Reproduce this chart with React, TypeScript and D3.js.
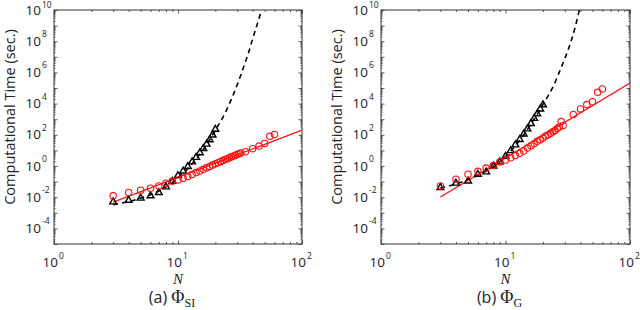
import React, { useEffect, useRef } from 'react';
import * as d3 from 'd3';

// values are log10(seconds)
const triN = [3, 4, 5, 6, 7, 8, 9, 10, 11, 12, 13, 14, 15, 16, 17, 18, 19, 20];
const triLogA = [-2.30, -2.20, -2.06, -1.91, -1.70, -1.34, -0.98, -0.62, -0.32, -0.03, 0.26, 0.55, 0.85, 1.12, 1.40, 1.68, 1.98, 2.35];
const triLogB = [-1.38, -1.10, -0.96, -0.53, -0.38, 0.0, 0.26, 0.62, 0.98, 1.35, 1.70, 2.05, 2.38, 2.72, 3.05, 3.35, 3.65, 3.92];

const circNA = [3, 4, 5, 6, 7, 8, 9, 10, 11, 12, 13, 14, 15, 16, 17, 18, 19, 20, 21, 22, 23, 24, 25, 26, 27, 28, 29, 30, 31, 32, 35, 40, 45, 50, 55, 60];
const circLogA = [-1.91, -1.70, -1.55, -1.42, -1.28, -1.10, -0.98, -0.89, -0.78, -0.68, -0.55, -0.42, -0.32, -0.21, -0.12, -0.03, 0.06, 0.14, 0.21, 0.28, 0.35, 0.41, 0.47, 0.53, 0.59, 0.64, 0.69, 0.74, 0.79, 0.84, 0.92, 1.11, 1.28, 1.45, 1.90, 2.02];
const circNB = [3, 4, 5, 6, 7, 8, 9, 10, 11, 12, 13, 14, 15, 16, 17, 18, 19, 20, 21, 22, 23, 24, 25, 26, 27, 28, 29, 35, 40, 45, 50, 55, 60];
const circLogB = [-1.28, -0.85, -0.53, -0.34, -0.13, 0.04, 0.26, 0.38, 0.53, 0.68, 0.81, 0.96, 1.15, 1.30, 1.42, 1.58, 1.68, 1.80, 1.93, 2.00, 2.10, 2.20, 2.28, 2.40, 2.50, 2.85, 2.60, 3.30, 3.66, 3.94, 4.12, 4.72, 4.94];

// dashed fit (black)
const dashNA = [3, 4, 5, 6, 7, 8, 9, 10, 12, 14, 16, 18, 20, 22, 24, 26, 28, 31, 34, 37, 40, 43, 46, 48];
const dashLogA = [-2.48, -2.28, -2.06, -1.84, -1.60, -1.34, -1.05, -0.75, -0.15, 0.45, 1.05, 1.68, 2.30, 2.85, 3.40, 4.00, 4.60, 5.50, 6.40, 7.25, 8.15, 8.95, 9.70, 10.2];
const dashNB = [3, 4, 5, 6, 7, 8, 9, 10, 12, 14, 16, 18, 20, 22, 24, 27, 30, 33, 36, 39.2, 40];
const dashLogB = [-1.42, -1.15, -0.88, -0.60, -0.32, -0.04, 0.27, 0.60, 1.30, 2.00, 2.68, 3.32, 3.95, 4.50, 5.05, 6.00, 6.90, 7.80, 8.80, 10.0, 10.3];

// red fit (solid)
const fitN = [3, 100];
const fitLogA = [-2.32, 2.30];
const fitLogB = [-1.99, 5.32];

const yLabelExps = [-4, -2, 0, 2, 4, 6, 8, 10];
const xLabelExps = [0, 1, 2];

const RED = '#ff1010';
const AXIS = '#333';
const SANS = '"Open Sans", sans-serif';
const SERIF = '"Liberation Serif", "DejaVu Serif", serif';

const App = () => {
  const ref = useRef(null);

  useEffect(() => {
    const svg = d3.select(ref.current);
    svg.selectAll('*').remove();

    const top = 10, bottom = 244;

    const panels = [
      { id: 'a', left: 54, right: 302, tri: triLogA, circN: circNA, circ: circLogA, dashN: dashNA, dash: dashLogA, fit: fitLogA, sub: 'SI' },
      { id: 'b', left: 381, right: 630, tri: triLogB, circN: circNB, circ: circLogB, dashN: dashNB, dash: dashLogB, fit: fitLogB, sub: 'G' },
    ];

    panels.forEach(p => {
      const x = d3.scaleLog().domain([1, 100]).range([p.left, p.right]);
      const y = d3.scaleLog().domain([1e-5, 1e10]).range([bottom, top]);
      const g = svg.append('g');

      // clip
      g.append('clipPath').attr('id', 'clip-' + p.id)
        .append('rect').attr('x', p.left).attr('y', top)
        .attr('width', p.right - p.left).attr('height', bottom - top);

      // ticks
      const majorX = [1, 10, 100];
      const minorX = [];
      [1, 10].forEach(d => { for (let m = 2; m < 10; m++) minorX.push(d * m); });
      const majorY = d3.range(-5, 11).map(e => 10 ** e);
      const minorY = [];
      d3.range(-5, 10).forEach(e => { for (let m = 2; m < 10; m++) minorY.push(m * 10 ** e); });

      const tickAxis = (axis, vals, size, transform) => {
        g.append('g')
          .attr('transform', transform)
          .call(axis.tickValues(vals).tickSize(size).tickFormat(''))
          .call(a => {
            a.select('.domain').remove();
            a.selectAll('.tick line').attr('stroke', AXIS).attr('stroke-width', 0.8);
          });
      };
      tickAxis(d3.axisBottom(x), majorX, -3.5, `translate(0,${bottom})`);
      tickAxis(d3.axisBottom(x), minorX, -2, `translate(0,${bottom})`);
      tickAxis(d3.axisTop(x), majorX, -3.5, `translate(0,${top})`);
      tickAxis(d3.axisTop(x), minorX, -2, `translate(0,${top})`);
      tickAxis(d3.axisLeft(y), majorY, -3.5, `translate(${p.left},0)`);
      tickAxis(d3.axisLeft(y), minorY, -1.5, `translate(${p.left},0)`);
      tickAxis(d3.axisRight(y), majorY, -3.5, `translate(${p.right},0)`);
      tickAxis(d3.axisRight(y), minorY, -1.5, `translate(${p.right},0)`);

      // box
      g.append('rect')
        .attr('x', p.left).attr('y', top)
        .attr('width', p.right - p.left).attr('height', bottom - top)
        .attr('fill', 'none').attr('stroke', AXIS).attr('stroke-width', 1);

      // y labels
      yLabelExps.forEach(e => {
        const yy = y(10 ** e);
        g.append('text').attr('x', p.left - 13).attr('y', yy + 4.5)
          .attr('text-anchor', 'end').attr('font-family', SANS).attr('font-size', 13.5)
          .attr('fill', '#222').text('10');
        g.append('text').attr('x', p.left - 12).attr('y', Math.max(yy - 4, 8))
          .attr('font-family', SANS).attr('font-size', 8.5)
          .attr('fill', '#222').text(e < 0 ? '-' + Math.abs(e) : String(e));
      });

      // x labels
      xLabelExps.forEach(e => {
        const xx = x(10 ** e);
        g.append('text').attr('x', xx + 4).attr('y', 266.5)
          .attr('text-anchor', 'end').attr('font-family', SANS).attr('font-size', 13.5)
          .attr('fill', '#222').text('10');
        g.append('text').attr('x', xx + 5).attr('y', 259)
          .attr('font-family', SANS).attr('font-size', 8.5)
          .attr('fill', '#222').text(String(e));
      });

      // axis titles
      const cx = (p.left + p.right) / 2;
      g.append('text').attr('x', cx).attr('y', 284)
        .attr('text-anchor', 'middle').attr('font-family', SERIF).attr('font-style', 'italic')
        .attr('font-size', 15).attr('fill', '#222').text('N');

      g.append('text')
        .attr('transform', `translate(${p.left - 39},${(top + bottom) / 2 - 10}) rotate(-90)`)
        .attr('text-anchor', 'middle').attr('font-family', SANS).attr('font-size', 14.5)
        .attr('fill', '#222').text('Computational Time (sec.)');

      // caption
      const cap = g.append('text').attr('x', cx - 6).attr('y', 303)
        .attr('text-anchor', 'middle').attr('font-size', 16).attr('fill', '#222');
      cap.append('tspan').attr('font-family', SANS).text(`(${p.id}) `);
      cap.append('tspan').attr('font-family', SERIF).attr('font-size', 18).text('Φ');
      cap.append('tspan').attr('font-family', SERIF).attr('font-size', 12).attr('dy', 4).text(p.sub);

      // data
      const plot = g.append('g').attr('clip-path', `url(#clip-${p.id})`);

      const line = d3.line().x(d => x(d[0])).y(d => y(10 ** d[1]));

      plot.append('path')
        .datum(p.dashN.map((n, i) => [n, p.dash[i]]))
        .attr('d', d3.line().curve(d3.curveMonotoneX).x(d => x(d[0])).y(d => y(10 ** d[1])))
        .attr('fill', 'none').attr('stroke', '#000').attr('stroke-width', 1.6)
        .attr('stroke-dasharray', '5,4');

      plot.append('path')
        .datum(fitN.map((n, i) => [n, p.fit[i]]))
        .attr('d', line)
        .attr('fill', 'none').attr('stroke', RED).attr('stroke-width', 1.3);

      plot.selectAll('.tri')
        .data(triN.map((n, i) => [n, p.tri[i]]))
        .join('path')
        .attr('transform', d => `translate(${x(d[0])},${y(10 ** d[1])})`)
        .attr('d', d3.symbol(d3.symbolTriangle, 20))
        .attr('fill', 'none').attr('stroke', '#000').attr('stroke-width', 1.4);

      plot.selectAll('.circ')
        .data(p.circN.map((n, i) => [n, p.circ[i]]))
        .join('circle')
        .attr('cx', d => x(d[0]))
        .attr('cy', d => y(10 ** d[1]))
        .attr('r', 3.2)
        .attr('fill', 'none').attr('stroke', RED).attr('stroke-width', 1.1);
    });
  }, []);

  return (
    <svg ref={ref} width={640} height={310}
      style={{ position: 'absolute', left: 0, top: 0, background: '#fff' }} />
  );
};

export default App;
